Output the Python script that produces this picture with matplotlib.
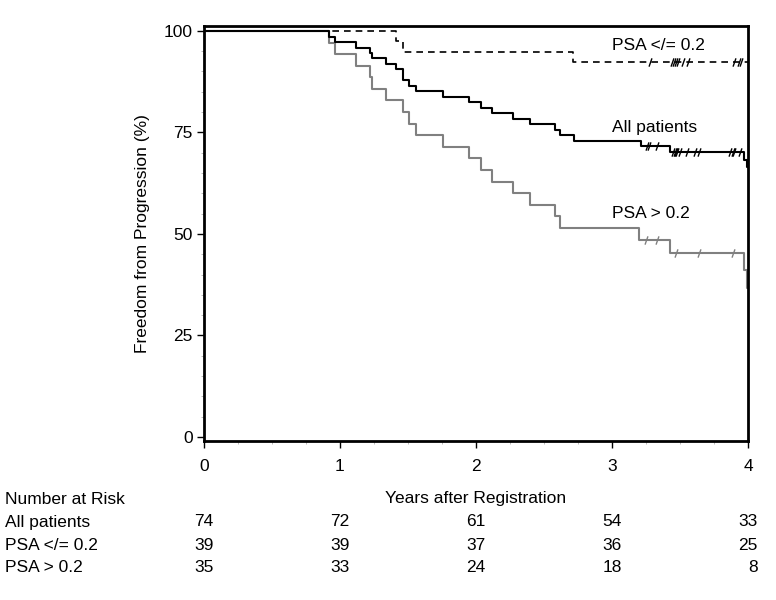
import numpy as np
import matplotlib
matplotlib.use("Agg")
import matplotlib.pyplot as plt
from matplotlib.path import Path
from matplotlib import font_manager

# ---------------- data ----------------
all_t = [0, 0.92, 0.96, 1.12, 1.22, 1.233, 1.34, 1.41, 1.46, 1.51, 1.557, 1.76, 1.95,
         2.04, 2.12, 2.27, 2.40, 2.58, 2.62, 2.72, 3.21, 3.43, 3.97, 3.99, 4.0]
all_s = [100, 98.6, 97.3, 95.9, 94.6, 93.2, 91.9, 90.5, 87.8, 86.5, 85.1, 83.8, 82.4,
         81.1, 79.7, 78.4, 77.0, 75.7, 74.3, 73.0, 71.6, 70.2, 68.2, 66.5, 66.5]
all_cens = [3.26, 3.27, 3.33, 3.45, 3.46, 3.47, 3.48, 3.50, 3.55, 3.61, 3.64,
            3.87, 3.89, 3.90, 3.94]

low_t = [0, 1.41, 1.46, 2.71, 4.0]
low_s = [100, 97.4, 94.9, 92.3, 92.3]
low_cens = [3.28, 3.44, 3.455, 3.47, 3.485, 3.52, 3.56, 3.90, 3.935, 3.95]

high_t = [0, 0.92, 0.96, 1.12, 1.22, 1.233, 1.34, 1.46, 1.51, 1.557, 1.76, 1.95, 2.04,
          2.12, 2.27, 2.40, 2.58, 2.62, 3.20, 3.43, 3.97, 3.99, 4.0]
high_s = [100, 97.1, 94.3, 91.4, 88.6, 85.7, 82.9, 80.0, 77.1, 74.3, 71.4, 68.6, 65.7,
          62.9, 60.0, 57.1, 54.3, 51.4, 48.6, 45.4, 41.0, 36.7, 36.7]
high_cens = [3.25, 3.33, 3.47, 3.64, 3.89]

risk_times = [0, 1, 2, 3, 4]
risk_groups = ["All patients", "PSA </= 0.2", "PSA > 0.2"]
risk_all = [74, 72, 61, 54, 33]
risk_low = [39, 39, 37, 36, 25]
risk_high = [35, 33, 24, 18, 8]

curve_labels = ["PSA </= 0.2", "All patients", "PSA > 0.2"]
label_pos_x = [3.0, 3.0, 3.0]
label_pos_y = [96.5, 76.3, 55.1]

# ---------------- font ----------------
names = {f.name for f in font_manager.fontManager.ttflist}
fam = "Liberation Sans Narrow" if "Liberation Sans Narrow" in names else "Liberation Sans"
plt.rcParams['font.family'] = [fam, 'DejaVu Sans']

FS = 12.5

fig = plt.figure(figsize=(7.76, 6.00), dpi=100)
ax = fig.add_axes([204/776, 1-441/600, (748-204)/776, (441-26)/600])

def step_at(t, s, x):
    i = np.searchsorted(np.asarray(t), x, side='right') - 1
    return np.asarray(s)[i]

slash = Path([(-0.35, -1.0), (0.35, 1.0)], [Path.MOVETO, Path.LINETO])

GRAY = "#808080"
ax.step(high_t, high_s, where='post', color=GRAY, lw=1.5, zorder=2)
ax.step(all_t, all_s, where='post', color='black', lw=1.5, zorder=3)
ax.step(low_t, low_s, where='post', color='black', lw=1.2, ls=(0, (4, 3)), zorder=3)

for t, s, c, col in [(high_t, high_s, high_cens, GRAY),
                     (all_t, all_s, all_cens, 'black'),
                     (low_t, low_s, low_cens, 'black')]:
    ys = [step_at(t, s, x) for x in c]
    ax.plot(c, ys, ls='none', marker=slash, markersize=6, markeredgewidth=1.0,
            markeredgecolor=col, color=col, zorder=4)

for lab, lx, ly in zip(curve_labels, label_pos_x, label_pos_y):
    ax.text(lx, ly, lab, fontsize=FS, ha='left', va='center')

ax.set_xlim(0, 4.0)
ax.set_ylim(-1, 101.2)
ax.set_xticks([0, 1, 2, 3, 4])
ax.set_yticks([0, 25, 50, 75, 100])
ax.set_xticks(np.arange(0, 4.01, 0.25), minor=True)
ax.set_yticks(np.arange(0, 101, 5), minor=True)
ax.tick_params(axis='both', which='major', direction='out', length=5, width=1,
               labelsize=FS)
ax.tick_params(axis='x', which='major', pad=8)
ax.tick_params(axis='y', which='major', pad=3)
ax.tick_params(axis='both', which='minor', direction='out', length=2, width=0.6,
               color='#b0b0b0')
for sp in ax.spines.values():
    sp.set_linewidth(2)

ax.set_xlabel("Years after Registration", fontsize=FS, labelpad=12)
ax.set_ylabel("Freedom from Progression (%)", fontsize=FS, labelpad=10)

# number at risk table
trans = matplotlib.transforms.blended_transform_factory(ax.transData, fig.transFigure)
fig.text(5/776, 1-500/600, "Number at Risk", fontsize=FS, ha='left', va='center')
row_y = [522, 545, 568]
for name, vals, yy in zip(risk_groups, [risk_all, risk_low, risk_high], row_y):
    fig.text(5/776, 1-yy/600, name, fontsize=FS, ha='left', va='center')
    for tt, v in zip(risk_times, vals):
        ax.text(tt + 0.07, 1-yy/600, str(v), fontsize=FS, ha='right', va='center',
                transform=trans, clip_on=False)

fig.savefig("out.png", dpi=100)
print(fam)
